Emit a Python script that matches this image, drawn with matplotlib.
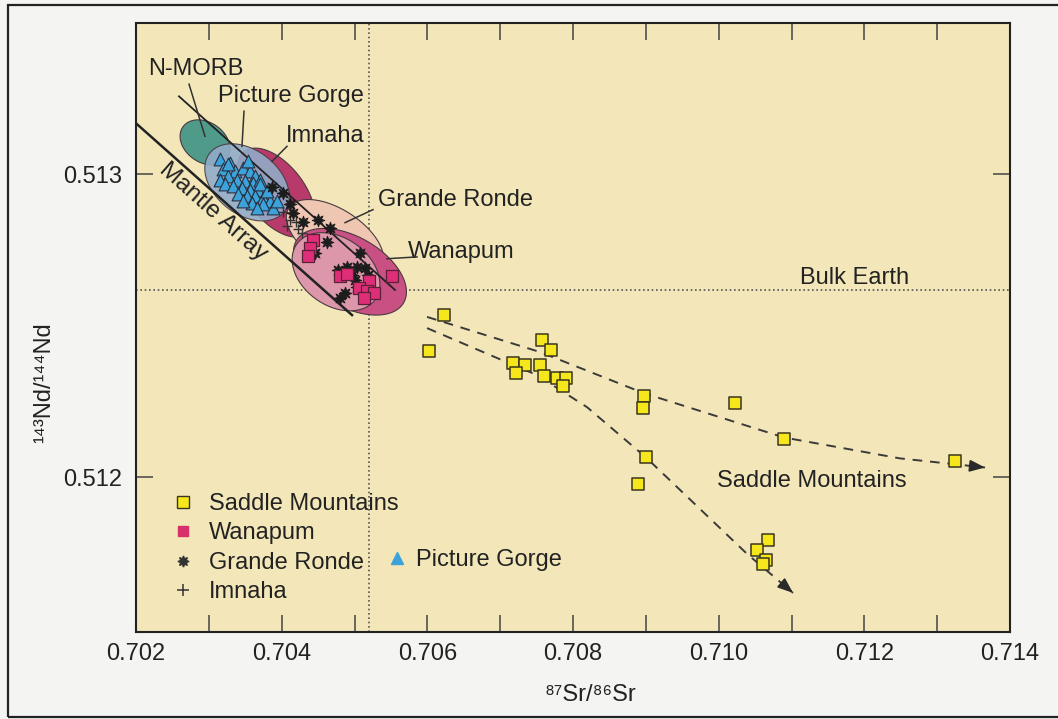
import numpy as np
import matplotlib
matplotlib.use("Agg")
import matplotlib.pyplot as plt
from matplotlib.patches import Polygon, Rectangle
from matplotlib.lines import Line2D
from matplotlib.ticker import MultipleLocator, FormatStrFormatter

plt.rcParams['font.family'] = ['Liberation Sans', 'DejaVu Sans']

# Saddle Mountains basalts
saddle_sr = [0.706229, 0.706023, 0.707575, 0.707698, 0.707176, 0.707341, 0.707218,
             0.707547, 0.707602, 0.707781, 0.707904, 0.707863, 0.708975, 0.708961,
             0.710225, 0.710897, 0.713245, 0.709003, 0.708893, 0.710678, 0.710527,
             0.710650, 0.710609]
saddle_nd = [0.512536, 0.512417, 0.512454, 0.512421, 0.512377, 0.512371, 0.512344,
             0.512371, 0.512334, 0.512328, 0.512328, 0.512301, 0.512268, 0.512228,
             0.512245, 0.512126, 0.512056, 0.512066, 0.511980, 0.511795, 0.511762,
             0.511728, 0.511715]

# Wanapum basalts
wanapum_sr = [0.704430, 0.704389, 0.704362, 0.704801, 0.704897, 0.705199, 0.705062,
              0.705172, 0.705268, 0.705131, 0.705515]
wanapum_nd = [0.512785, 0.512758, 0.512732, 0.512666, 0.512672, 0.512649, 0.512626,
              0.512616, 0.512609, 0.512593, 0.512666]

# Grande Ronde basalts
grande_sr = [0.704156, 0.704293, 0.704499, 0.704664, 0.704623, 0.704458, 0.705076,
             0.704897, 0.705034, 0.705144, 0.704774, 0.704966, 0.705007, 0.705034,
             0.704870, 0.704801, 0.705186, 0.704018, 0.703867, 0.704115]
grande_nd = [0.512874, 0.512844, 0.512851, 0.512825, 0.512778, 0.512742, 0.512742,
             0.512695, 0.512695, 0.512692, 0.512685, 0.512669, 0.512652, 0.512629,
             0.512609, 0.512593, 0.512669, 0.512940, 0.512960, 0.512901]

# Imnaha basalts
imnaha_sr = [0.704018, 0.704115, 0.704224, 0.704279, 0.704197, 0.704073]
imnaha_nd = [0.512877, 0.512851, 0.512821, 0.512808, 0.512844, 0.512831]

# Picture Gorge basalts
pg_sr = [0.703153, 0.703291, 0.703199, 0.703359, 0.703473, 0.703565, 0.703634,
         0.703267, 0.703383, 0.703497, 0.703611, 0.703703, 0.703153, 0.703222,
         0.703336, 0.703451, 0.703565, 0.703679, 0.703405, 0.703520, 0.703634,
         0.703748, 0.703840, 0.703748, 0.703885, 0.703589, 0.703473, 0.703267,
         0.703542, 0.703703, 0.703795, 0.703932, 0.703657]
pg_nd = [0.513050, 0.513039, 0.513017, 0.513011, 0.513022, 0.513011, 0.512994,
         0.512994, 0.512983, 0.512978, 0.512973, 0.512983, 0.512983, 0.512967,
         0.512961, 0.512956, 0.512950, 0.512950, 0.512934, 0.512928, 0.512928,
         0.512923, 0.512912, 0.512901, 0.512890, 0.512906, 0.512912, 0.513033,
         0.513044, 0.512967, 0.512945, 0.512912, 0.512890]

# Saddle Mountains trends
trend1_sr = [0.705996, 0.707547, 0.708975, 0.710897, 0.712490, 0.713657]
trend1_nd = [0.512530, 0.512414, 0.512278, 0.512132, 0.512063, 0.512033]
trend2_sr = [0.705996, 0.707506, 0.708193, 0.709003, 0.710389, 0.711021]
trend2_nd = [0.512493, 0.512338, 0.512232, 0.512066, 0.511748, 0.511619]

# mantle array and its upper bound
mantle_sr = [0.702014, 0.704966]
mantle_nd = [0.513166, 0.512536]
upper_sr = [0.702590, 0.705556]
upper_nd = [0.513258, 0.512619]

# bulk earth
bulk_sr = 0.7052
bulk_nd = 0.512619

# fields: name, centre Sr, centre Nd, semi-axes (Sr units), tilt in degrees, colour
fields = [
    ("N-MORB", 0.702947, 0.513106, 0.000370, 0.000275, -35, "#4f9a88"),
    ("Imnaha", 0.703922, 0.512940, 0.000714, 0.000390, -52, "#b83a6a"),
    ("Picture Gorge", 0.703524, 0.512974, 0.000650, 0.000440, -38, "#92acc9"),
    ("Imnaha tail", 0.704252, 0.512834, 0.000165, 0.000165, 0, "#c2507a"),
    ("Grande Ronde", 0.704732, 0.512791, 0.000755, 0.000390, -33, "#efc6b2"),
    ("Wanapum", 0.704938, 0.512679, 0.000851, 0.000480, -30, "#c85083"),
    ("Wanapum core", 0.704746, 0.512679, 0.000659, 0.000465, -35, "#dc98aa"),
]

# labels: text, Sr, Nd
labels = [
    ("N-MORB", 0.702824, 0.513348),
    ("Picture Gorge", 0.704128, 0.513258),
    ("Imnaha", 0.704595, 0.513126),
    ("Grande Ronde", 0.706380, 0.512917),
    ("Wanapum", 0.706462, 0.512745),
    ("Bulk Earth", 0.711859, 0.512659),
    ("Saddle Mountains", 0.711282, 0.511990),
]
# leader lines: Sr start, Nd start, Sr end, Nd end
leaders = [
    (0.702728, 0.513298, 0.702947, 0.513126),
    (0.703483, 0.513209, 0.703455, 0.513093),
    (0.704073, 0.513093, 0.703867, 0.513043),
    (0.705254, 0.512884, 0.704870, 0.512841),
    (0.705858, 0.512728, 0.705446, 0.512722),
]

xmin, xmax = 0.702, 0.714
ymin, ymax = 0.51149, 0.51350

fig = plt.figure(figsize=(10.58, 7.19), dpi=100, facecolor="#f4f4f2")
ax = fig.add_axes([136 / 1058, 1 - 632 / 719, 874 / 1058, 609 / 719])
ax.set_facecolor("#f3e7b9")
ax.set_xlim(xmin, xmax)
ax.set_ylim(ymin, ymax)

# y units are stretched relative to x units on screen
bbox = ax.get_position()
k = (bbox.height * 719 / (ymax - ymin)) / (bbox.width * 1058 / (xmax - xmin))


def field_patch(cx, cy, a, b, ang, color):
    t = np.linspace(0, 2 * np.pi, 200)
    u = a * np.cos(t)
    v = b * np.sin(t)
    r = np.deg2rad(ang)
    x = cx + u * np.cos(r) - v * np.sin(r)
    y = cy + (u * np.sin(r) + v * np.cos(r)) / k
    return Polygon(np.column_stack([x, y]), closed=True, facecolor=color,
                   edgecolor="#4a3a40", lw=0.8, zorder=2)


for name, cx, cy, a, b, ang, col in fields:
    p = field_patch(cx, cy, a, b, ang, col)
    if name == "Picture Gorge":
        p.set_alpha(0.9)
    ax.add_patch(p)

# bulk earth reference lines
ax.axvline(bulk_sr, color="#555555", lw=1.2, ls=(0, (1, 1.6)), zorder=1)
ax.axhline(bulk_nd, color="#555555", lw=1.2, ls=(0, (1, 1.6)), zorder=1)

# mantle array
ax.plot(mantle_sr, mantle_nd, color="#222222", lw=1.8, zorder=4)
ax.plot(upper_sr, upper_nd, color="#222222", lw=1.3, zorder=4)
ax.text(0.703057, 0.512877, "Mantle Array", rotation=-41.5, fontsize=17.5,
        ha="center", va="center", color="#222222", rotation_mode="anchor", zorder=5)

# data points
ax.scatter(pg_sr, pg_nd, marker="^", s=85, color="#3ba3d9", edgecolor="#2a3040",
           lw=0.8, zorder=5)
ax.scatter(imnaha_sr, imnaha_nd, marker="+", s=50, color="#333333", lw=1.0, zorder=5)
ax.scatter(grande_sr, grande_nd, marker=(8, 1, 0), s=85, color="#1c1c1c", lw=0.6,
           edgecolor="#1c1c1c", zorder=6)
ax.scatter(wanapum_sr, wanapum_nd, marker="s", s=65, color="#df2e78", edgecolor="#5a2035",
           lw=0.9, zorder=6)
ax.scatter(saddle_sr, saddle_nd, marker="s", s=75, color="#f6e61c", edgecolor="#3a3520",
           lw=1.1, zorder=6)

# trend arrows
for tx, ty in [(trend1_sr, trend1_nd), (trend2_sr, trend2_nd)]:
    ax.plot(tx, ty, color="#3a3a3a", lw=1.4, ls=(0, (5, 4)), zorder=3)
    x0 = tx[-1] - 0.05 * (tx[-1] - tx[-2])
    y0 = ty[-1] - 0.05 * (ty[-1] - ty[-2])
    ax.annotate("", xy=(tx[-1], ty[-1]), xytext=(x0, y0),
                arrowprops=dict(arrowstyle="-|>,head_length=0.9,head_width=0.35",
                                color="#2a2a2a", lw=1.4, shrinkA=0, shrinkB=0),
                zorder=3)

for text, lx, ly in labels:
    ax.text(lx, ly, text, fontsize=17, ha="center", va="center", color="#222222", zorder=7)
for x1, y1, x2, y2 in leaders:
    ax.plot([x1, x2], [y1, y2], color="#333333", lw=1.1, zorder=7)

# axes styling
ax.xaxis.set_major_locator(MultipleLocator(0.002))
ax.xaxis.set_minor_locator(MultipleLocator(0.001))
ax.xaxis.set_major_formatter(FormatStrFormatter("%.3f"))
ax.set_yticks([0.512, 0.513])
ax.yaxis.set_major_formatter(FormatStrFormatter("%.3f"))
ax.tick_params(axis="both", which="both", direction="in", top=True, right=True,
               length=12, width=1.1, color="#444444", labelsize=17, labelcolor="#222222")
ax.tick_params(axis="x", which="major", pad=8)
ax.tick_params(axis="y", which="major", pad=10)
for s in ax.spines.values():
    s.set_linewidth(1.5)
    s.set_color("#222222")

ax.set_xlabel("⁸⁷Sr/⁸⁶Sr", fontsize=17, color="#222222")
ax.set_ylabel("¹⁴³Nd/¹⁴⁴Nd", fontsize=17, color="#222222")
ax.xaxis.set_label_coords(0.52, -0.085)
ax.yaxis.set_label_coords(-0.093, 0.41)

# legend
h1 = [
    Line2D([], [], ls="", marker="s", ms=8, mfc="#f6e61c", mec="#3a3520", mew=1.0),
    Line2D([], [], ls="", marker="s", ms=7, mfc="#d8306a", mec="#d8306a"),
    Line2D([], [], ls="", marker=(8, 1, 0), ms=8, mfc="#333333", mec="#333333"),
    Line2D([], [], ls="", marker="+", ms=9, mec="#333333", mew=1.1),
]
leg1 = ax.legend(h1, ["Saddle Mountains", "Wanapum", "Grande Ronde", "Imnaha"],
                 loc="upper left", bbox_to_anchor=(0.040, 0.228), frameon=False,
                 fontsize=17, handlelength=1.0, handletextpad=0.6, labelspacing=0.31,
                 borderpad=0, borderaxespad=0, labelcolor="#222222")
ax.add_artist(leg1)
h2 = [Line2D([], [], ls="", marker="^", ms=8, mfc="#3ba3d9", mec="#3ba3d9")]
ax.legend(h2, ["Picture Gorge"], loc="center left", bbox_to_anchor=(0.285, 0.118),
          frameon=False, fontsize=17, handlelength=1.0, handletextpad=0.3,
          borderpad=0, borderaxespad=0, labelcolor="#222222")

# page frame
fig.add_artist(Rectangle((8 / 1058, 2 / 719), 1.2, 712 / 719, transform=fig.transFigure,
                         fill=False, lw=1.6, edgecolor="#222222"))

fig.savefig("out.png", dpi=100, facecolor=fig.get_facecolor())
